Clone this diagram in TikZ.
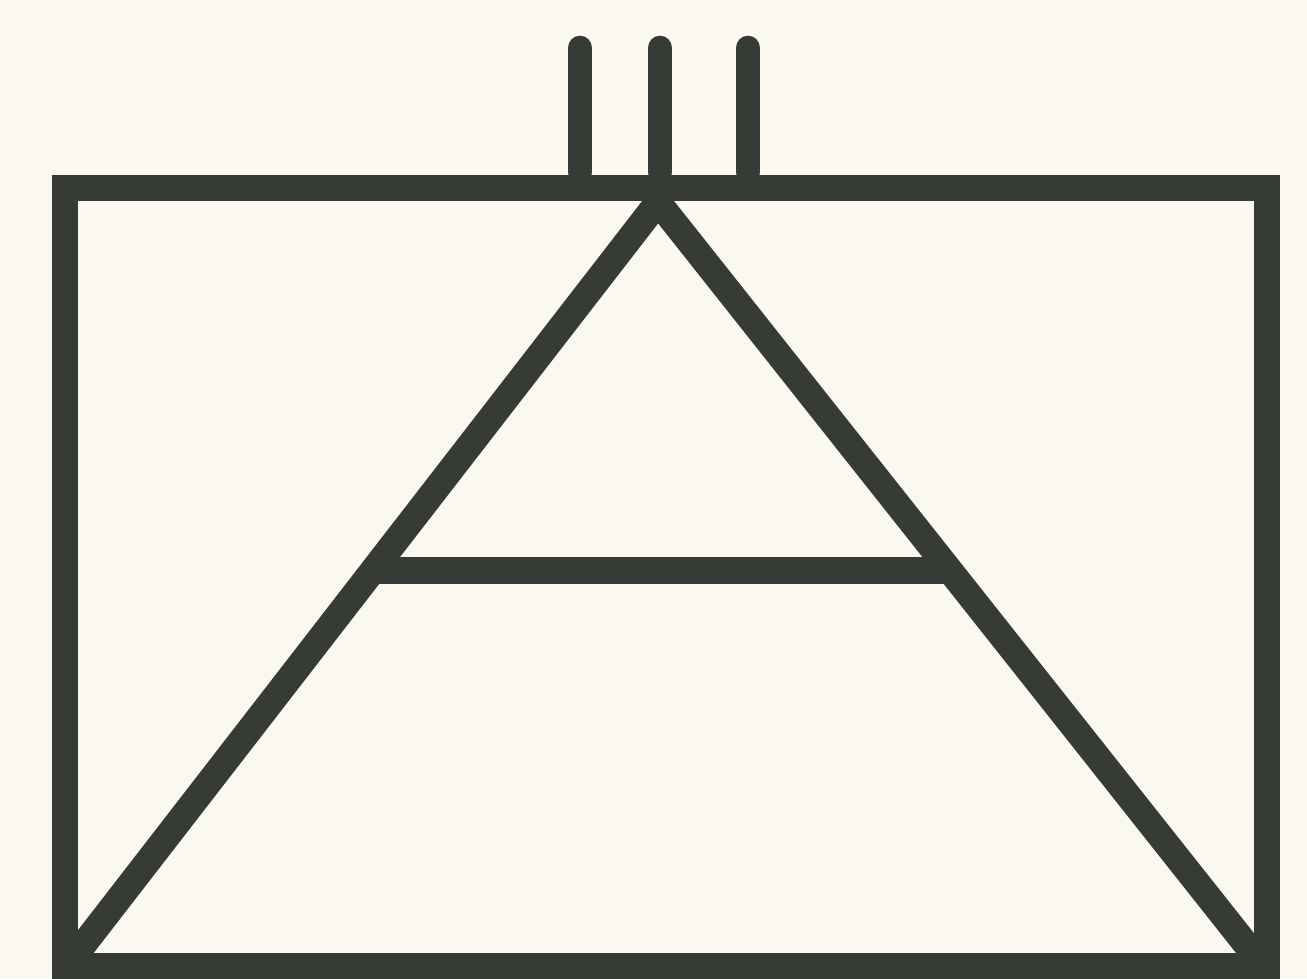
\documentclass[tikz,border=0pt]{standalone}
\usepackage{tikz}
\usetikzlibrary{calc}

\definecolor{paper}{HTML}{FBF8EF}
\definecolor{ink}{HTML}{363B36}

\begin{document}
\begin{tikzpicture}[
    x=0.01cm, y=-0.01cm,
    stroke/.style={draw=ink, line width=7.5pt},
    tick/.style={draw=ink, line width=7pt, line cap=round}
]
\fill[paper] (0,0) rectangle (1307,978);
\useasboundingbox (0,0) rectangle (1307,978);

% frame
\draw[stroke] (65,188) rectangle (1267,966);

% the A
\coordinate (apex) at (658,202);
\coordinate (footL) at (70,962);
\coordinate (footR) at (1260,962);
\draw[stroke, line join=miter] (footL) -- (apex) -- (footR);
\draw[stroke] ($(footL)!0.515!(apex)$) -- ($(footR)!0.515!(apex)$);

% three bars on top
\foreach \bx in {580,660,748}
    \draw[tick] (\bx,48) -- (\bx,172);
\end{tikzpicture}
\end{document}
